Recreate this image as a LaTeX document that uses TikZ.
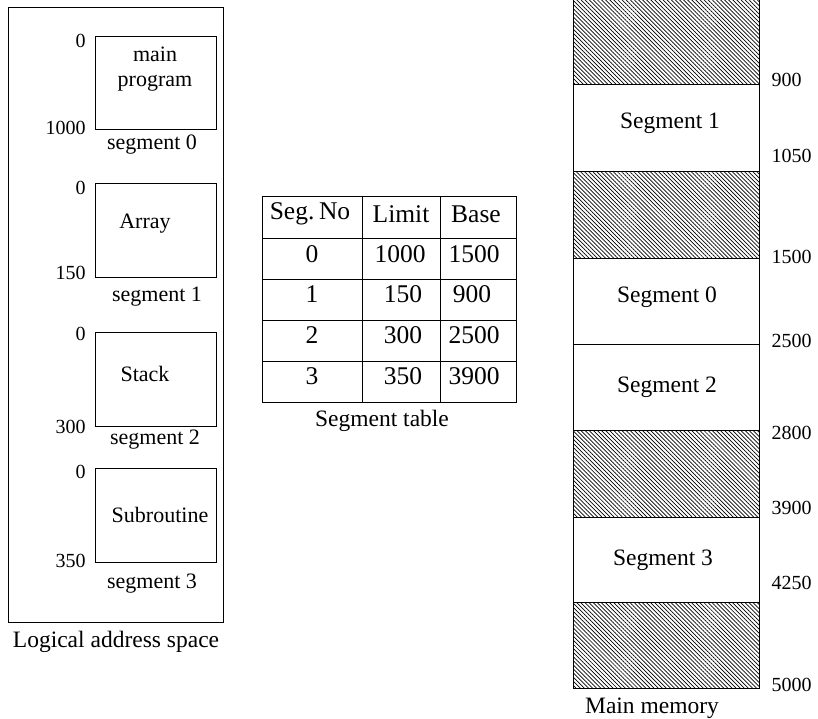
\documentclass[tikz,border=0pt]{standalone}
\usepackage{fontspec}
\setmainfont{Liberation Serif}
\usetikzlibrary{patterns.meta}

\begin{document}
\begin{tikzpicture}[x=1pt,y=-1pt,line width=1pt,
  every node/.style={font=\fontsize{22}{25}\selectfont,inner sep=0pt},
  addr/.style={font=\fontsize{20}{24}\selectfont},
  cell/.style={font=\fontsize{25.5}{28}\selectfont},
  caption/.style={font=\fontsize{23.5}{27}\selectfont},
  hole/.style={pattern={Lines[angle=-45,distance=2.9pt,line width=0.7pt]}}]
  \useasboundingbox (0,0) rectangle (818,719);

  % Logical address space: four segments in one frame.
  \draw (8,8) rectangle (223,622);
  \draw (95,37)  rectangle (216,130);
  \draw (95,184) rectangle (216,277);
  \draw (95,332) rectangle (216,426);
  \draw (95,468) rectangle (216,562);

  \node (mainprog) at (155,69) [align=center] {main\\program};
  \node (array)    at (145,224) {Array};
  \node (stack)    at (145,374) {Stack};
  \node (subr)     at (160,515) {Subroutine};

  \node[addr,anchor=east] (lo0) at (86,41)  {0};
  \node[addr,anchor=east] (hi0) at (86,128) {1000};
  \node[addr,anchor=east] (lo1) at (86,188) {0};
  \node[addr,anchor=east] (hi1) at (86,273) {150};
  \node[addr,anchor=east] (lo2) at (86,334) {0};
  \node[addr,anchor=east] (hi2) at (86,427) {300};
  \node[addr,anchor=east] (lo3) at (86,472) {0};
  \node[addr,anchor=east] (hi3) at (86,561) {350};

  \node (seg0) at (152,145) {segment 0};
  \node (seg1) at (157,297) {segment 1};
  \node (seg2) at (155,440) {segment 2};
  \node (seg3) at (152,584) {segment 3};

  \node[caption] (logical) at (116,642) {Logical address space};

  % Segment table
  \draw (262,197) rectangle (516,402);
  \draw (362,197) -- (362,402);
  \draw (440,197) -- (440,402);
  \draw (262,238) -- (516,238);
  \draw (262,279) -- (516,279);
  \draw (262,320) -- (516,320);
  \draw (262,361) -- (516,361);

  \node[cell] (hseg)   at (310,214) {Seg.\kern0.18em No};
  \node[cell] (hlimit) at (401,214) {Limit};
  \node[cell] (hbase)  at (476,214) {Base};

  \node[cell] (n0) at (312,254) {0};
  \node[cell] (l0) at (400,254) {1000};
  \node[cell] (b0) at (474,254) {1500};
  \node[cell] (n1) at (312,294) {1};
  \node[cell] (l1) at (403,294) {150};
  \node[cell] (b1) at (472,294) {900};
  \node[cell] (n2) at (312,335) {2};
  \node[cell] (l2) at (403,335) {300};
  \node[cell] (b2) at (474,335) {2500};
  \node[cell] (n3) at (312,376) {3};
  \node[cell] (l3) at (403,376) {350};
  \node[cell] (b3) at (474,376) {3900};

  \node[caption] (segtable) at (382,421) {Segment table};

  % Main memory: free holes are hatched.
  \fill[hole] (573,0)   rectangle (759,85);
  \fill[hole] (573,172) rectangle (759,258);
  \fill[hole] (573,430) rectangle (759,517);
  \fill[hole] (573,602) rectangle (759,688);

  \draw (573,0) rectangle (759,688);
  \draw (573,85)  -- (759,85);
  \draw (573,172) -- (759,172);
  \draw (573,258) -- (759,258);
  \draw (573,344) -- (759,344);
  \draw (573,430) -- (759,430);
  \draw (573,517) -- (759,517);
  \draw (573,602) -- (759,602);

  \node[caption] (mseg1) at (670,123) {Segment 1};
  \node[caption] (mseg0) at (667,297) {Segment 0};
  \node[caption] (mseg2) at (667,387) {Segment 2};
  \node[caption] (mseg3) at (663,560) {Segment 3};

  \node[addr,anchor=west] (a900)  at (771,80)  {900};
  \node[addr,anchor=west] (a1050) at (771,156) {1050};
  \node[addr,anchor=west] (a1500) at (771,257) {1500};
  \node[addr,anchor=west] (a2500) at (771,341) {2500};
  \node[addr,anchor=west] (a2800) at (771,433) {2800};
  \node[addr,anchor=west] (a3900) at (771,508) {3900};
  \node[addr,anchor=west] (a4250) at (771,583) {4250};
  \node[addr,anchor=west] (a5000) at (771,685) {5000};

  \node[caption] (mainmem) at (652,708) {Main memory};
\end{tikzpicture}
\end{document}
